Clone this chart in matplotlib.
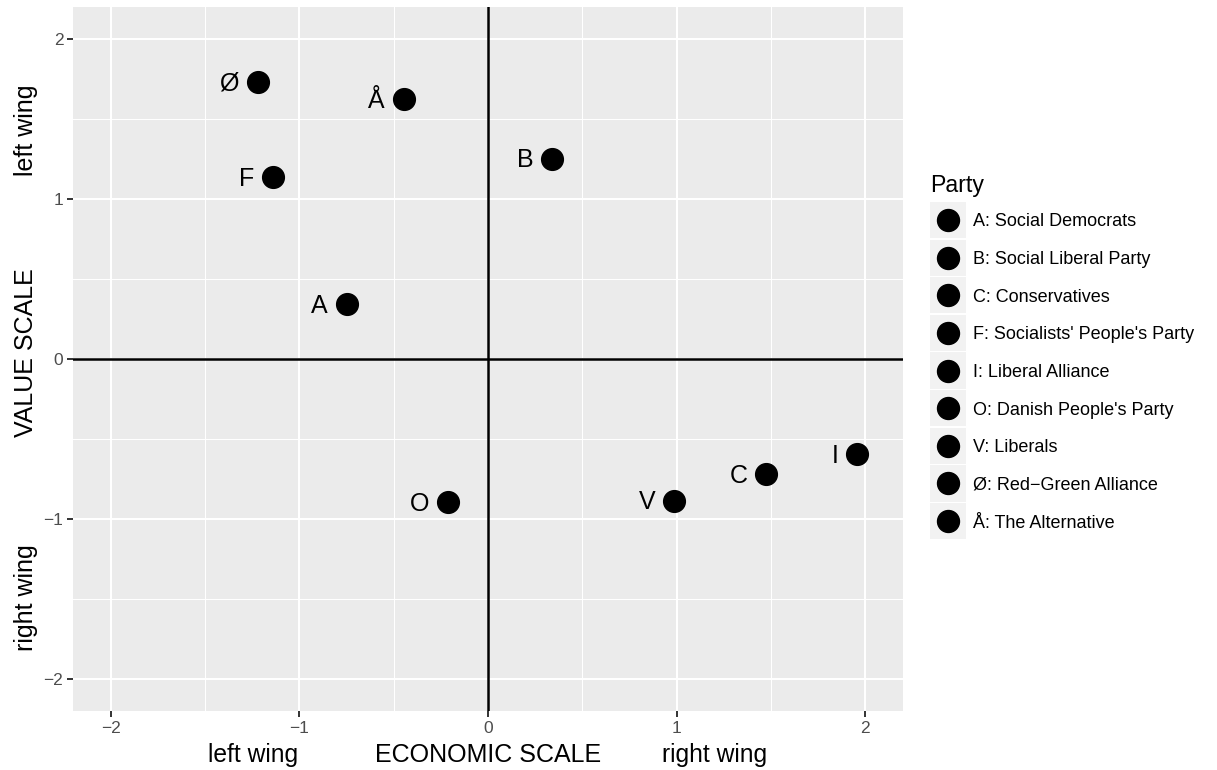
import matplotlib
matplotlib.use("Agg")
import matplotlib.pyplot as plt
from matplotlib.legend_handler import HandlerBase
from matplotlib.patches import Rectangle
from matplotlib.lines import Line2D
from matplotlib.transforms import blended_transform_factory, ScaledTranslation

plt.rcParams['font.family'] = ['Liberation Sans', 'DejaVu Sans']

# party positions (economic, value)
letters = ["A", "B", "C", "F", "I", "O", "V", "Ø", "Å"]
names = ["Social Democrats", "Social Liberal Party", "Conservatives",
         "Socialists' People's Party", "Liberal Alliance", "Danish People's Party",
         "Liberals", "Red\u2212Green Alliance", "The Alternative"]
econ = [-0.75, 0.34, 1.475, -1.14, 1.958, -0.21, 0.988, -1.22, -0.446]
value = [0.34, 1.25, -0.72, 1.135, -0.594, -0.896, -0.886, 1.73, 1.62]


class KeyHandler(HandlerBase):
    # grey key square with a black dot, like ggplot
    def create_artists(self, legend, orig_handle, xdescent, ydescent,
                       width, height, fontsize, trans):
        s = 26
        cx = width / 2 - xdescent
        cy = 0.358 * fontsize
        rect = Rectangle((cx - s / 2, cy - s / 2), s, s, facecolor='#F2F2F2',
                         edgecolor='none', transform=trans)
        dot = Line2D([cx], [cy], marker='o', markersize=15.8, color='black',
                     linestyle='none', transform=trans)
        return [rect, dot]


fig = plt.figure(figsize=(12.17, 7.7), dpi=100)
ax = fig.add_axes([73 / 1217, 1 - 711 / 770, (903 - 73) / 1217, (711 - 6.5) / 770])
ax.set_facecolor('#EBEBEB')
for s in ax.spines.values():
    s.set_visible(False)

ax.set_xlim(-2.2, 2.2)
ax.set_ylim(-2.2, 2.2)
ax.set_xticks([-2, -1, 0, 1, 2])
ax.set_yticks([-2, -1, 0, 1, 2])
ax.set_xticks([-1.5, -0.5, 0.5, 1.5], minor=True)
ax.set_yticks([-1.5, -0.5, 0.5, 1.5], minor=True)
ax.grid(which='major', color='white', linewidth=1.5)
ax.grid(which='minor', color='white', linewidth=0.75)
ax.set_axisbelow(True)
ax.tick_params(which='major', length=4.5, width=1.4, color='#333333',
               labelsize=12.5, labelcolor='#4D4D4D', pad=2.5)
ax.tick_params(which='minor', length=0)

ax.axhline(0, color='black', linewidth=1.8, zorder=1.5)
ax.axvline(0, color='black', linewidth=1.8, zorder=1.5)

shift = ScaledTranslation(0, -6.4 / 72, fig.dpi_scale_trans)
handles = []
for i in range(len(letters)):
    h = ax.scatter(econ[i], value[i], s=245, color='black', zorder=3,
                   label=f"{letters[i]}: {names[i]}")
    handles.append(h)
    ax.text(econ[i] - 0.1, value[i], letters[i], ha='right', va='baseline',
            fontsize=18, color='black', zorder=3,
            transform=ax.transData + shift)

# axis titles
tx = blended_transform_factory(ax.transData, fig.transFigure)
ax.text(-1.245, 8.3 / 770, "left wing", transform=tx, ha='center', va='baseline', fontsize=17.7)
ax.text(0, 8.3 / 770, "ECONOMIC SCALE", transform=tx, ha='center', va='baseline', fontsize=18)
ax.text(1.203, 8.3 / 770, "right wing", transform=tx, ha='center', va='baseline', fontsize=17.7)

ty = blended_transform_factory(fig.transFigure, ax.transData)
ax.text(26 / 1217, 1.425, "left wing", transform=ty, rotation=90, ha='center', va='center', fontsize=18)
ax.text(26 / 1217, 0.04, "VALUE SCALE", transform=ty, rotation=90, ha='center', va='center', fontsize=18)
ax.text(26 / 1217, -1.49, "right wing", transform=ty, rotation=90, ha='center', va='center', fontsize=18)

leg = fig.legend(handles=handles, title="Party", loc='upper left',
                 bbox_to_anchor=(930 / 1217, 1 - 174 / 770), frameon=False,
                 fontsize=13, title_fontsize=16.7,
                 handler_map={type(handles[0]): KeyHandler()},
                 handlelength=2.0, handleheight=2.0, labelspacing=0.54,
                 handletextpad=0.37, borderpad=0, borderaxespad=0, alignment='left')

fig.savefig("out.png", dpi=100)
